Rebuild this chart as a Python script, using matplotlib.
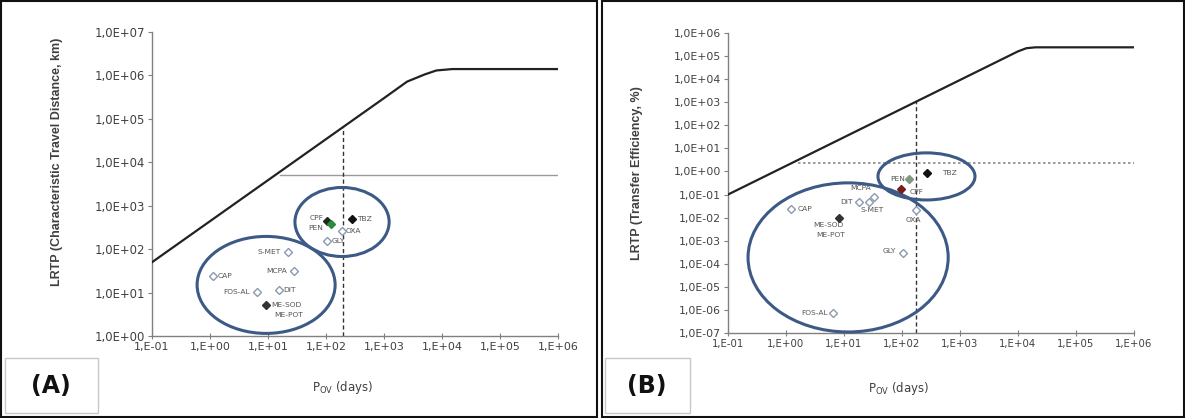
# LRTP vs. overall persistence (Pov) for two metrics: travel distance (A)
# and transfer efficiency (B).

import numpy as np
import matplotlib.pyplot as plt
from matplotlib.patches import Ellipse, Rectangle
from matplotlib.ticker import FixedLocator, FuncFormatter, NullLocator

plt.rcParams['font.family'] = ['DejaVu Sans']

# panel A: characteristic travel distance (km)
curve_a_x = [0.1, 1000, 2500, 5000, 8000, 15000, 1e6]
curve_a_y = [50, 3.0e5, 7.2e5, 1.05e6, 1.3e6, 1.4e6, 1.4e6]
pov_cut_a = 195
ctd_cut = 5.1e3
ctd_cut_start = 16

names_a = ['CAP', 'FOS-AL', 'S-MET', 'MCPA', 'DIT', 'ME-SOD',
           'OXA', 'GLY', 'CPF', 'PEN', 'TBZ']
pov_a = [1.14, 6.5, 22, 28.5, 15.5, 9.2, 186, 102, 105, 122, 275]
ctd_a = [23.6, 10.2, 85, 31, 11.3, 5.2, 267, 157, 440, 375, 500]

# panel B: transfer efficiency (%)
curve_b_x = [0.1, 1e4, 1.4e4, 2e4, 1e6]
curve_b_y = [0.1, 1.6e5, 2.2e5, 2.4e5, 2.4e5]
pov_cut_b = 178
te_cut = 2.3
te_cut_start = 1.6

names_b = ['CAP', 'MCPA', 'DIT', 'S-MET', 'ME-SOD', 'OXA', 'GLY',
           'FOS-AL', 'PEN', 'TBZ', 'CPF']
pov_b = [1.2, 33, 18, 27, 8.3, 178, 105, 6.6, 134, 268, 98]
te_b = [0.023, 0.08, 0.05, 0.05, 0.0098, 0.021, 2.8e-4, 7.6e-7,
        0.47, 0.83, 0.17]

x_ticks = [10.0**k for k in range(-1, 7)]
y_ticks_a = [10.0**k for k in range(0, 8)]
y_ticks_b = [10.0**k for k in range(-7, 7)]

# marker styles: (facecolor, edgecolor)
open_mk = ('white', '#8a9bb0')
special = {'ME-SOD': ('#333333', '#333333'), 'CPF': ('#1f2a1f', '#1f2a1f'),
           'PEN': ('#2e8b3a', '#2e8b3a'), 'TBZ': ('#111111', '#111111')}
special_b = {'ME-SOD': ('#333333', '#333333'), 'CPF': ('#7a1c1c', '#7a1c1c'),
             'PEN': ('#7f9a80', '#7f9a80'), 'TBZ': ('#111111', '#111111')}

# label offsets in points (dx, dy, ha)
lab_a = {'CAP': (3, 0, 'left'), 'FOS-AL': (-5, 0, 'right'),
         'S-MET': (-5, 0, 'right'), 'MCPA': (-5, 0, 'right'),
         'DIT': (3, 0, 'left'), 'ME-SOD': (4, 0, 'left'),
         'OXA': (3, 0, 'left'), 'GLY': (4, 0, 'left'),
         'CPF': (-3, 2, 'right'), 'PEN': (-6, -3, 'right'),
         'TBZ': (4, 0, 'left')}
lab_b = {'CAP': (5, 0, 'left'), 'MCPA': (-2, 6, 'right'),
         'DIT': (-4, 0, 'right'), 'S-MET': (2, -6, 'center'),
         'ME-SOD': (-8, -5, 'center'), 'OXA': (-2, -7, 'center'),
         'GLY': (-5, 2, 'right'), 'FOS-AL': (-4, 0, 'right'),
         'PEN': (-3, 0, 'right'), 'TBZ': (16, 0, 'center'),
         'CPF': (6, -2, 'left')}

ell_color = '#3d5a86'
txt_color = '#404040'
lab_color = '#555555'
lab_size = 5.4

fig = plt.figure(figsize=(11.85, 4.18), dpi=100)
ax_a = fig.add_axes([0.1283, 0.1962, 0.3426, 0.7273])
ax_b = fig.add_axes([0.6143, 0.2033, 0.3426, 0.7177])


def style_axes(ax, y_ticks, ylabel, xsize, ysize):
    ax.set_xscale('log')
    ax.set_yscale('log')
    ax.set_xlim(x_ticks[0], x_ticks[-1])
    ax.set_ylim(y_ticks[0], y_ticks[-1])
    ax.xaxis.set_major_locator(FixedLocator(x_ticks))
    ax.yaxis.set_major_locator(FixedLocator(y_ticks))
    ax.xaxis.set_minor_locator(NullLocator())
    ax.yaxis.set_minor_locator(NullLocator())
    ax.xaxis.set_major_formatter(FuncFormatter(
        lambda v, p: '1,E%+03d' % round(np.log10(v))))
    ax.yaxis.set_major_formatter(FuncFormatter(
        lambda v, p: '1,0E%+03d' % round(np.log10(v))))
    for s in ['top', 'right']:
        ax.spines[s].set_visible(False)
    for s in ['left', 'bottom']:
        ax.spines[s].set_color('#808080')
        ax.spines[s].set_linewidth(1.0)
    ax.tick_params(axis='both', direction='out', length=3, width=0.8,
                   color='#808080', labelcolor=txt_color, pad=2)
    ax.tick_params(axis='x', direction='inout', length=5, labelsize=xsize)
    ax.tick_params(axis='y', labelsize=ysize)
    ax.set_ylabel(ylabel, fontsize=9, fontweight='bold', color=txt_color,
                  family='Liberation Sans')
    ax.set_xlabel(r'P$_{\mathregular{OV}}$ (days)', fontsize=8.5,
                  color=txt_color)


# ---- panel A ----
style_axes(ax_a, y_ticks_a, 'LRTP (Characteristic Travel Distance, km)',
           8, 8.4)
ax_a.yaxis.set_label_coords(-0.22, 0.572)
ax_a.xaxis.set_label_coords(0.47, -0.14)
ax_a.plot(curve_a_x, curve_a_y, color='#222222', lw=1.6, zorder=3)
ax_a.plot([ctd_cut_start, 1e6], [ctd_cut, ctd_cut], color='#9a9a9a', lw=1.0)
yc = np.interp(np.log10(pov_cut_a), np.log10(curve_a_x), np.log10(curve_a_y))
ax_a.plot([pov_cut_a, pov_cut_a], [1, 10**yc], color='#333333', lw=1.0,
          ls=(0, (3, 2)))
for n, xv, yv in zip(names_a, pov_a, ctd_a):
    fc, ec = special.get(n, open_mk)
    ax_a.plot(xv, yv, marker='D', ms=4, mfc=fc, mec=ec, mew=1.0, zorder=5)
    dx, dy, ha = lab_a[n]
    ax_a.annotate(n, (xv, yv), xytext=(dx, dy), textcoords='offset points',
                  ha=ha, va='center', fontsize=lab_size, color=lab_color)
ax_a.annotate('ME-POT', (pov_a[5], ctd_a[5]), xytext=(6, -7),
              textcoords='offset points', ha='left', va='center',
              fontsize=lab_size, color=lab_color)
ax_a.add_patch(Ellipse((0.281, 0.168), 0.340, 0.319, transform=ax_a.transAxes,
                       fill=False, ec=ell_color, lw=2.2, zorder=4))
ax_a.add_patch(Ellipse((0.468, 0.375), 0.232, 0.227, transform=ax_a.transAxes,
                       fill=False, ec=ell_color, lw=2.2, zorder=4))

# ---- panel B ----
style_axes(ax_b, y_ticks_b, 'LRTP (Transfer Efficiency, %)', 7.3, 7.8)
ax_b.yaxis.set_label_coords(-0.21, 0.533)
ax_b.xaxis.set_label_coords(0.42, -0.155)
ax_b.plot(curve_b_x, curve_b_y, color='#222222', lw=1.6, zorder=3)
ax_b.plot([te_cut_start, 1e6], [te_cut, te_cut], color='#8a8a8a', lw=1.2,
          ls=(0, (1.5, 1.5)))
yc = np.interp(np.log10(pov_cut_b), np.log10(curve_b_x), np.log10(curve_b_y))
ax_b.plot([pov_cut_b, pov_cut_b], [1e-7, 10**yc], color='#333333', lw=1.0,
          ls=(0, (3, 2)))
for n, xv, yv in zip(names_b, pov_b, te_b):
    fc, ec = special_b.get(n, open_mk)
    ax_b.plot(xv, yv, marker='D', ms=4, mfc=fc, mec=ec, mew=1.0, zorder=5)
    dx, dy, ha = lab_b[n]
    ax_b.annotate(n, (xv, yv), xytext=(dx, dy), textcoords='offset points',
                  ha=ha, va='center', fontsize=lab_size, color=lab_color)
ax_b.annotate('ME-POT', (pov_b[4], te_b[4]), xytext=(-6, -12),
              textcoords='offset points', ha='center', va='center',
              fontsize=lab_size, color=lab_color)
ax_b.add_patch(Ellipse((0.296, 0.252), 0.493, 0.497, transform=ax_b.transAxes,
                       fill=False, ec=ell_color, lw=2.2, zorder=4,
                       clip_on=False))
ax_b.add_patch(Ellipse((0.489, 0.522), 0.239, 0.157, transform=ax_b.transAxes,
                       fill=False, ec=ell_color, lw=2.2, zorder=4))

# ---- panel frames and letter boxes ----
W, H = 1185.0, 418.0


def frect(x0, y0, x1, y1, ec, lw):
    fig.add_artist(Rectangle((x0 / W, 1 - y1 / H), (x1 - x0) / W,
                             (y1 - y0) / H, transform=fig.transFigure,
                             fill=False, ec=ec, lw=lw))


frect(1, 1, 597, 417, '#111111', 1.5)
frect(602, 1, 1184, 417, '#111111', 1.5)
frect(5, 358, 98, 413, '#c8c8c8', 1.0)
frect(605, 358, 690, 413, '#c8c8c8', 1.0)
fig.text(51 / W, 1 - 386 / H, '(A)', fontsize=17, fontweight='bold',
         ha='center', va='center', color='#111111')
fig.text(647 / W, 1 - 386 / H, '(B)', fontsize=17, fontweight='bold',
         ha='center', va='center', color='#111111')

fig.savefig('out.png', dpi=100)
